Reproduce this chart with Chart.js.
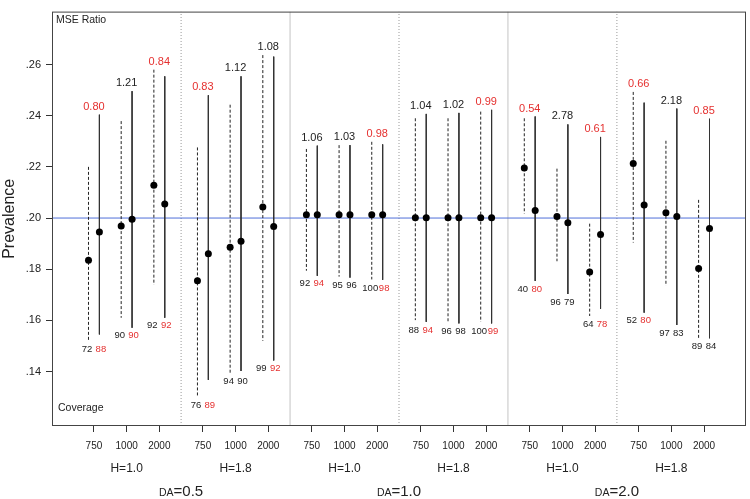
<!DOCTYPE html>
<html lang="en">
<head>
<meta charset="UTF-8">
<title>Prevalence</title>
<script src="https://cdn.jsdelivr.net/npm/chart.js"></script>
<style>
  body { margin: 0; background: #fff; }
</style>
</head>
<body>
<canvas id="chart" width="750" height="499"></canvas>
<script>
// categories
var daLabels = ['0.5', '1.0', '2.0'];
var hLabels = ['H=1.0', 'H=1.8'];
var nLabels = ['750', '1000', '2000'];
var yTicks = [0.14, 0.16, 0.18, 0.20, 0.22, 0.24, 0.26];

// dashed interval (left one of each pair)
var dashHi  = [0.2200, 0.2379, 0.2580, 0.2276, 0.2443, 0.2637, 0.2270, 0.2285, 0.2298,
               0.2390, 0.2390, 0.2416, 0.2390, 0.2193, 0.1978, 0.2493, 0.2302, 0.2071];
var dashEst = [0.1835, 0.1969, 0.2128, 0.1755, 0.1886, 0.2043, 0.2013, 0.2013, 0.2013,
               0.2001, 0.2001, 0.2001, 0.2196, 0.2006, 0.1789, 0.2213, 0.2021, 0.1803];
var dashLo  = [0.1517, 0.1610, 0.1739, 0.1300, 0.1392, 0.1520, 0.1794, 0.1771, 0.1760,
               0.1601, 0.1594, 0.1594, 0.2017, 0.1831, 0.1617, 0.1904, 0.1735, 0.1530];

// solid interval (right one of each pair)
var solidHi  = [0.2404, 0.2496, 0.2554, 0.2480, 0.2554, 0.2631, 0.2283, 0.2285, 0.2288,
                0.2407, 0.2411, 0.2423, 0.2397, 0.2366, 0.2317, 0.2451, 0.2428, 0.2388];
var solidEst = [0.1945, 0.1995, 0.2055, 0.1860, 0.1909, 0.1967, 0.2013, 0.2013, 0.2013,
                0.2001, 0.2001, 0.2001, 0.2029, 0.1982, 0.1936, 0.2051, 0.2006, 0.1959];
var solidLo  = [0.1545, 0.1571, 0.1610, 0.1367, 0.1402, 0.1443, 0.1774, 0.1767, 0.1758,
                0.1594, 0.1588, 0.1588, 0.1754, 0.1703, 0.1645, 0.1630, 0.1582, 0.1530];

// text above / below each pair
var mseRatio = ['0.80', '1.21', '0.84', '0.83', '1.12', '1.08', '1.06', '1.03', '0.98',
                '1.04', '1.02', '0.99', '0.54', '2.78', '0.61', '0.66', '2.18', '0.85'];
var covDash  = ['72', '90', '92', '76', '94', '99', '92', '95', '100',
                '88', '96', '100', '40', '96', '64', '52', '97', '89'];
var covSolid = ['88', '90', '92', '89', '90', '92', '94', '96', '98',
                '94', '98', '99', '80', '79', '78', '80', '83', '84'];
var covSolidRed = [1, 1, 1, 1, 0, 1, 1, 0, 1, 1, 0, 1, 1, 0, 1, 1, 0, 0];

var refValue = 0.20;
var yMin = 0.1187, yMax = 0.2807;
var xMin = -3.85, xMax = 59.85;

var RED = '#e5302f';
var INK = '#222222';
var FONT = '"Liberation Sans", Arial, sans-serif';

// x position of each N tick: groups of three with a gap between groups
var xPos = [];
for (var g = 0; g < 6; g++) {
    for (var k = 0; k < 3; k++) xPos.push(g * 10 + k * 3);
}

function intervals(x0, hi, lo, shift) {
    var pts = [];
    x0.forEach(function (x, i) {
        pts.push({ x: x + shift, y: hi[i] });
        pts.push({ x: x + shift, y: lo[i] });
        pts.push({ x: x + shift, y: null });
    });
    return pts;
}
function points(x0, est, shift) {
    return x0.map(function (x, i) { return { x: x + shift, y: est[i] }; });
}
function vlines(xs) {
    var pts = [];
    xs.forEach(function (x) {
        pts.push({ x: x, y: yMin });
        pts.push({ x: x, y: yMax });
        pts.push({ x: x, y: null });
    });
    return pts;
}

var annot = {
    id: 'annot',
    afterDatasetsDraw: function (chart) {
        var ctx = chart.ctx, xs = chart.scales.x, ys = chart.scales.y, a = chart.chartArea;
        ctx.save();

        // frame
        ctx.strokeStyle = '#444';
        ctx.lineWidth = 1;
        ctx.strokeRect(a.left + 0.5, a.top + 0.5, a.right - a.left - 1, a.bottom - a.top - 1);

        // MSE ratios and coverages
        ctx.textAlign = 'center';
        ctx.textBaseline = 'middle';
        for (var i = 0; i < xPos.length; i++) {
            var cx = xs.getPixelForValue(xPos[i]);
            var top = Math.min(ys.getPixelForValue(dashHi[i]), ys.getPixelForValue(solidHi[i]));
            var bot = Math.max(ys.getPixelForValue(dashLo[i]), ys.getPixelForValue(solidLo[i]));
            ctx.font = '11px ' + FONT;
            ctx.fillStyle = parseFloat(mseRatio[i]) < 1 ? RED : INK;
            ctx.fillText(mseRatio[i], cx, top - 8);

            ctx.font = '9.5px ' + FONT;
            ctx.fillStyle = INK;
            ctx.fillText(covDash[i], xs.getPixelForValue(xPos[i] - 0.5) - 1.5, bot + 8);
            ctx.fillStyle = covSolidRed[i] ? RED : INK;
            ctx.fillText(covSolid[i], xs.getPixelForValue(xPos[i] + 0.5) + 1.5, bot + 8);
        }

        // corner notes
        ctx.textAlign = 'left';
        ctx.textBaseline = 'alphabetic';
        ctx.fillStyle = INK;
        ctx.font = '10.5px ' + FONT;
        ctx.fillText('MSE Ratio', a.left + 4, 23);
        ctx.fillText('Coverage', a.left + 6, 411);

        // H and DA group labels
        ctx.textAlign = 'center';
        ctx.font = '12px ' + FONT;
        for (var h = 0; h < 6; h++) {
            ctx.fillText(hLabels[h % 2], xs.getPixelForValue(h * 10 + 3), 472);
        }
        for (var d = 0; d < 3; d++) {
            var mid = xs.getPixelForValue(d * 20 + 8);
            ctx.font = '10.5px ' + FONT;
            var w1 = ctx.measureText('DA').width;
            ctx.font = '15px ' + FONT;
            var w2 = ctx.measureText('=' + daLabels[d]).width;
            var start = mid - (w1 + w2) / 2;
            ctx.textAlign = 'left';
            ctx.font = '10.5px ' + FONT;
            ctx.fillText('DA', start, 496);
            ctx.font = '15px ' + FONT;
            ctx.fillText('=' + daLabels[d], start + w1, 496);
            ctx.textAlign = 'center';
        }
        ctx.restore();
    }
};

new Chart(document.getElementById('chart'), {
    type: 'scatter',
    plugins: [annot],
    data: {
        datasets: [
            {   // dashed estimates
                data: points(xPos, dashEst, -0.5),
                pointRadius: 3.5, pointBackgroundColor: '#000', pointBorderWidth: 0, showLine: false
            },
            {   // solid estimates
                data: points(xPos, solidEst, 0.5),
                pointRadius: 3.5, pointBackgroundColor: '#000', pointBorderWidth: 0, showLine: false
            },
            {
                data: intervals(xPos, dashHi, dashLo, -0.5),
                showLine: true, spanGaps: false, pointRadius: 0,
                borderColor: '#222', borderWidth: 1, borderDash: [3, 2]
            },
            {
                data: intervals(xPos, solidHi, solidLo, 0.5),
                showLine: true, spanGaps: false, pointRadius: 0,
                borderColor: '#333', borderWidth: 1
            },
            {   // reference line
                data: [{ x: xMin, y: refValue }, { x: xMax, y: refValue }],
                showLine: true, pointRadius: 0, borderColor: '#4f6fd9', borderWidth: 1
            },
            {   // between H groups
                data: vlines([8, 28, 48]),
                showLine: true, spanGaps: false, pointRadius: 0,
                borderColor: '#999', borderWidth: 1, borderDash: [1, 2]
            },
            {   // between DA groups
                data: vlines([18, 38]),
                showLine: true, spanGaps: false, pointRadius: 0,
                borderColor: '#c4c4c4', borderWidth: 1
            }
        ]
    },
    options: {
        responsive: false,
        animation: false,
        layout: { padding: { top: 4, right: 4, left: 0, bottom: 0 } },
        plugins: { legend: { display: false }, tooltip: { enabled: false } },
        scales: {
            x: {
                type: 'linear',
                min: xMin, max: xMax,
                afterBuildTicks: function (s) { s.ticks = xPos.map(function (v) { return { value: v }; }); },
                afterFit: function (s) { s.height = 73; },
                grid: { drawOnChartArea: false, drawTicks: true, tickLength: 6, color: '#333' },
                border: { display: false },
                ticks: {
                    autoSkip: false, maxRotation: 0, padding: 8,
                    color: INK, font: { size: 10, family: FONT },
                    callback: function (v, i) { return nLabels[i % 3]; }
                }
            },
            y: {
                min: yMin, max: yMax,
                afterBuildTicks: function (s) { s.ticks = yTicks.map(function (v) { return { value: v }; }); },
                afterFit: function (s) { s.width = 52; },
                grid: { drawOnChartArea: false, drawTicks: true, tickLength: 6, color: '#333' },
                border: { display: false },
                ticks: {
                    padding: 5, color: INK, font: { size: 11, family: FONT },
                    callback: function (v) { return v.toFixed(2).replace(/^0/, ''); }
                },
                title: {
                    display: true, text: 'Prevalence', color: INK, padding: 0,
                    font: { size: 16, family: FONT }
                }
            }
        }
    }
});
</script>
</body>
</html>
